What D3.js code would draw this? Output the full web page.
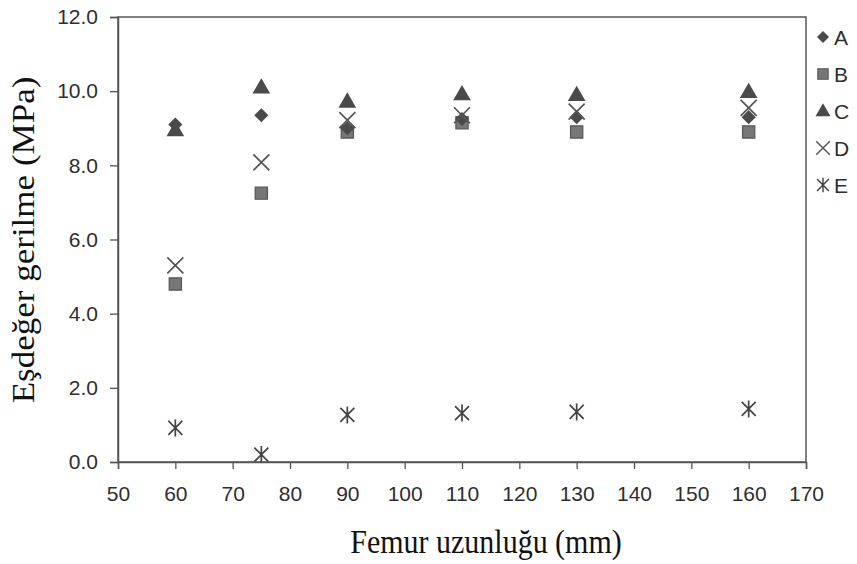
<!DOCTYPE html>
<html>
<head>
<meta charset="utf-8">
<script src="https://cdn.jsdelivr.net/npm/d3@7"></script>
<style>
  html, body { margin: 0; padding: 0; background: #fff; }
  svg { display: block; }
</style>
</head>
<body>
<svg id="chart" width="857" height="564"></svg>
<script>
// Femur length (mm) at which each model was evaluated
const femurLength = [60, 75, 90, 110, 130, 160];

// Equivalent stress (MPa) for each series
const seriesA = [9.1, 9.35, 9.0, 9.25, 9.3, 9.3];
const seriesB = [4.8, 7.25, 8.9, 9.15, 8.9, 8.9];
const seriesC = [8.95, 10.1, 9.72, 9.92, 9.9, 9.98];
const seriesD = [5.3, 8.08, 9.22, 9.35, 9.45, 9.55];
const seriesE = [0.92, 0.2, 1.27, 1.32, 1.35, 1.43];

const seriesNames = ["A", "B", "C", "D", "E"];
const xTicks = [50, 60, 70, 80, 90, 100, 110, 120, 130, 140, 150, 160, 170];
const yTicks = [0, 2, 4, 6, 8, 10, 12];

const svg = d3.select("#chart");
const plotLeft = 118, plotRight = 806, plotTop = 17, plotBottom = 462;

const x = d3.scaleLinear().domain([50, 170]).range([plotLeft, plotRight]);
const y = d3.scaleLinear().domain([0, 12]).range([plotBottom, plotTop]);

// plot frame
svg.append("rect")
  .attr("x", plotLeft).attr("y", plotTop)
  .attr("width", plotRight - plotLeft).attr("height", plotBottom - plotTop)
  .attr("fill", "none").attr("stroke", "#555").attr("stroke-width", 1.5);

const tickFont = "Liberation Sans, Arial, sans-serif";

const xAxis = svg.append("g")
  .attr("transform", `translate(0,${plotBottom})`)
  .call(d3.axisBottom(x).tickValues(xTicks).tickFormat(d3.format("d")).tickSize(7).tickPadding(17));
const yAxis = svg.append("g")
  .attr("transform", `translate(${plotLeft},0)`)
  .call(d3.axisLeft(y).tickValues(yTicks).tickFormat(d3.format(".1f")).tickSize(8).tickPadding(12));

[xAxis, yAxis].forEach(g => {
  g.select(".domain").attr("stroke", "#555").attr("stroke-width", 1.5);
  g.selectAll(".tick line").attr("stroke", "#555").attr("stroke-width", 1.3);
  g.selectAll(".tick text")
    .attr("fill", "#2e2e2e")
    .style("font-family", tickFont)
    .style("font-size", "21px");
});

// marker drawing helpers
const markColor = "#4a4a4a";
function drawMarker(g, name) {
  if (name === "A") {
    g.append("path").attr("d", d3.symbol(d3.symbolSquare, 100)())
      .attr("transform", "rotate(45)").attr("fill", markColor);
  } else if (name === "B") {
    g.append("path").attr("d", d3.symbol(d3.symbolSquare, 150)())
      .attr("fill", "#777").attr("stroke", "#555").attr("stroke-width", 1.2);
  } else if (name === "C") {
    g.append("path").attr("d", d3.symbol(d3.symbolTriangle, 135)())
      .attr("transform", "translate(0,1)").attr("fill", markColor);
  } else if (name === "D") {
    const s = 8;
    g.append("path").attr("d", `M${-s},${-s}L${s},${s}M${-s},${s}L${s},${-s}`)
      .attr("stroke", "#555").attr("stroke-width", 1.7).attr("fill", "none");
  } else if (name === "E") {
    const s = 7;
    g.append("path").attr("d", `M${-s},${-s}L${s},${s}M${-s},${s}L${s},${-s}M0,${-s - 1.5}L0,${s + 1.5}`)
      .attr("stroke", "#444").attr("stroke-width", 1.7).attr("fill", "none");
  }
}

const seriesValues = { A: seriesA, B: seriesB, C: seriesC, D: seriesD, E: seriesE };
// draw order so that overlaps resemble the printed figure
const drawOrder = ["B", "A", "D", "C", "E"];
drawOrder.forEach(name => {
  const vals = seriesValues[name];
  svg.append("g").selectAll("g")
    .data(femurLength.map((fl, i) => ({ fl, v: vals[i] })))
    .join("g")
    .attr("transform", d => `translate(${x(d.fl)},${y(d.v)})`)
    .each(function () { drawMarker(d3.select(this), name); });
});

// legend
const legend = svg.append("g").attr("transform", "translate(823,37)");
seriesNames.forEach((name, i) => {
  const row = legend.append("g").attr("transform", `translate(0,${i * 37})`);
  const m = row.append("g").attr("transform", "scale(0.85)");
  drawMarker(m, name);
  row.append("text")
    .attr("x", 11).attr("y", 7.5)
    .attr("fill", "#2e2e2e")
    .style("font-family", tickFont)
    .style("font-size", "21px")
    .text(name);
});

// axis titles
const titleFont = "Liberation Serif, Times New Roman, serif";
svg.append("text")
  .attr("transform", "translate(486,553) scale(1,1.1)")
  .attr("text-anchor", "middle")
  .attr("fill", "#111")
  .style("font-family", titleFont)
  .style("font-size", "30px")
  .text("Femur uzunluğu (mm)");

svg.append("text")
  .attr("transform", "translate(34,240) rotate(-90) scale(1.13,1)")
  .attr("text-anchor", "middle")
  .attr("fill", "#111")
  .style("font-family", titleFont)
  .style("font-size", "31px")
  .text("Eşdeğer gerilme (MPa)");
</script>
</body>
</html>
